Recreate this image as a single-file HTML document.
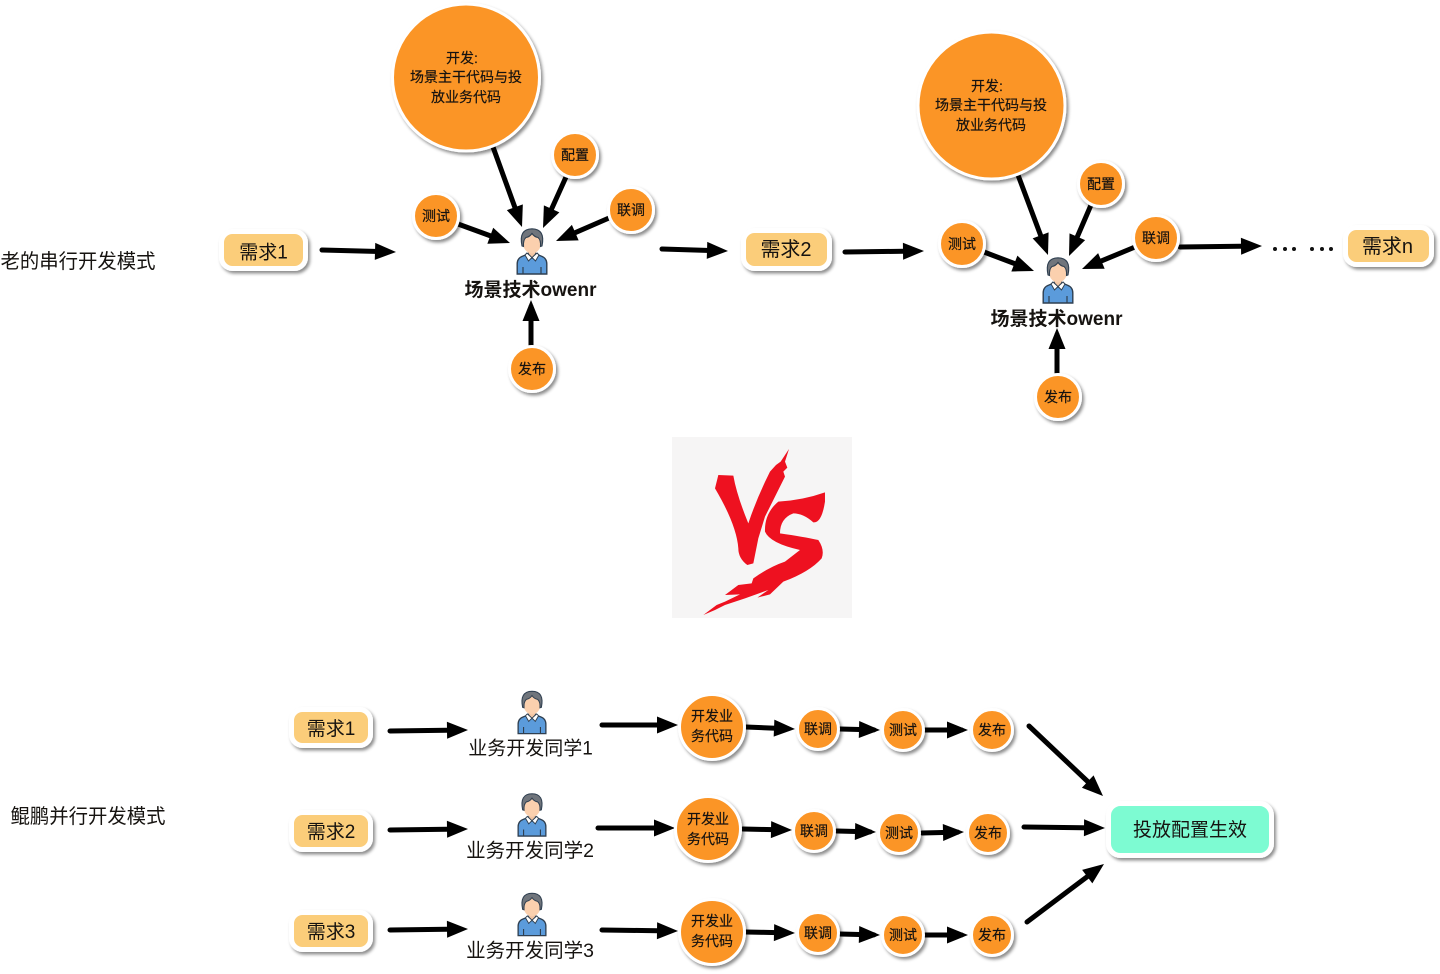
<!DOCTYPE html>
<html><head><meta charset="utf-8"><style>
html,body{margin:0;padding:0;background:#fff;width:1440px;height:974px;overflow:hidden}
svg{display:block;filter:blur(.35px)}
text{font-family:"Liberation Sans","Noto Sans CJK SC",sans-serif;fill:#161310;text-anchor:middle}
.l{stroke:#000;stroke-width:5;stroke-linecap:round;fill:none;marker-end:url(#a);stroke-dasharray:85 1000}
.c{fill:#fb9526;stroke:#fff;stroke-width:3;filter:url(#s)}
.p{fill:#fbcd7a;stroke:#fff;stroke-width:5;filter:url(#s)}
.t14{font-size:14px;stroke:#161310;stroke-width:.2}
.t20{font-size:20px}.t19{font-size:19px}
</style></head><body>
<svg width="1440" height="974" viewBox="0 0 1440 974" xmlns="http://www.w3.org/2000/svg">
<defs>
<filter id="s" x="-30%" y="-30%" width="170%" height="170%"><feDropShadow dx="2" dy="2.5" stdDeviation="1.6" flood-color="#000" flood-opacity=".45"/></filter>
<marker id="a" markerUnits="userSpaceOnUse" markerWidth="26" markerHeight="22" refX="23" refY="10" orient="auto"><path d="M2 1.5L23 10L2 18.5Z" fill="#000"/></marker>
<symbol id="u" viewBox="0 0 32 47" overflow="visible">
<path d="M1.2 46V36Q1.2 30 7 28L11 26.5L16 30L21 26.5L25 28Q30.8 30 30.8 36V46Z" fill="#5b9bdb" stroke="#2f3f50" stroke-width="1.4"/>
<path d="M7 46V39M25 46V39" stroke="#2f3f50" stroke-width="1.2"/>
<path d="M11 25L16 29.5L12.5 33L9 27ZM21 25L16 29.5L19.5 33L23 27Z" fill="#fff" stroke="#2f3f50" stroke-width="1"/>
<path d="M12.5 20H19.5V26L16 29.5L12.5 26Z" fill="#f2c5a3" stroke="#2f3f50" stroke-width=".8"/>
<ellipse cx="16" cy="15" rx="9" ry="10.5" fill="#fbd0ae"/>
<path d="M6 18Q2.5 1 16 .8Q29.5 1 26 18L24.5 18.5Q25 12 22 9.5Q18.5 9 16 5.5Q13.5 9 10 9.5Q7 12 7.5 18.5Z" fill="#70757c" stroke="#2f3f50" stroke-width="1.1"/>
</symbol>
</defs>

<text x="78" y="268" class="t20" textLength="155" lengthAdjust="spacingAndGlyphs">老的串行开发模式</text>
<text x="88" y="823" class="t20" textLength="155" lengthAdjust="spacingAndGlyphs">鲲鹏并行开发模式</text>

<rect x="221.500" y="231.500" width="84" height="37" rx="11" class="p"/><text x="263.500" y="258.500" class="t19">需求1</text>
<rect x="743.500" y="230.500" width="86" height="38" rx="11" class="p"/><text x="786" y="256" class="t20">需求2</text>
<rect x="1345.500" y="227.500" width="86" height="37" rx="11" class="p"/><text x="1387.500" y="253" class="t20">需求n</text>

<path pathLength="100" class="l" d="M322 250L396 252"/>
<path pathLength="100" class="l" d="M493 147L522 227"/>
<path pathLength="100" class="l" d="M566 177L543 228"/>
<path pathLength="100" class="l" d="M609 218L556 241"/>
<path pathLength="100" class="l" d="M458 224L510 243"/>
<path pathLength="100" class="l" d="M531 346L531 300"/>
<path pathLength="100" class="l" d="M662 249L728 251"/>
<path pathLength="100" class="l" d="M845 252L924 251"/>
<path pathLength="100" class="l" d="M1018 175L1048 255"/>
<path pathLength="100" class="l" d="M1091 205L1069 256"/>
<path pathLength="100" class="l" d="M1135 247L1082 269"/>
<path pathLength="100" class="l" d="M984 252L1034 271"/>
<path pathLength="100" class="l" d="M1057 374L1057 328"/>
<path pathLength="100" class="l" d="M1180 247L1262 246"/>
<g fill="#111"><circle cx="1275" cy="249" r="2"/><circle cx="1285" cy="249" r="2"/><circle cx="1294" cy="249" r="2"/><circle cx="1312" cy="249" r="2"/><circle cx="1322" cy="249" r="2"/><circle cx="1331" cy="249" r="2"/></g>

<circle cx="466" cy="77.500" r="73.500" class="c"/>
<text x="462" y="63" class="t14">开发:</text>
<text x="466" y="82" class="t14">场景主干代码与投</text>
<text x="466" y="102" class="t14">放业务代码</text>
<circle cx="575" cy="155" r="22.500" class="c"/><text x="575" y="160" class="t14">配置</text>
<circle cx="631" cy="210" r="22.500" class="c"/><text x="631" y="215" class="t14">联调</text>
<circle cx="436" cy="216" r="22.500" class="c"/><text x="436" y="221" class="t14">测试</text>
<circle cx="532" cy="369" r="22.500" class="c"/><text x="532" y="374" class="t14">发布</text>
<use href="#u" x="516" y="228" width="32" height="47"/>
<text x="530.500" y="296" font-size="19" font-weight="700">场景技术owenr</text>

<circle cx="991.500" cy="105.500" r="73.500" class="c"/>
<text x="987" y="91" class="t14">开发:</text>
<text x="991" y="110" class="t14">场景主干代码与投</text>
<text x="991" y="130" class="t14">放业务代码</text>
<circle cx="1101" cy="184" r="22.500" class="c"/><text x="1101" y="189" class="t14">配置</text>
<circle cx="1156" cy="238" r="22.500" class="c"/><text x="1156" y="243" class="t14">联调</text>
<circle cx="962" cy="244" r="22.500" class="c"/><text x="962" y="249" class="t14">测试</text>
<circle cx="1058" cy="397" r="22.500" class="c"/><text x="1058" y="402" class="t14">发布</text>
<use href="#u" x="1042" y="257" width="32" height="47"/>
<text x="1056.500" y="325" font-size="19" font-weight="700">场景技术owenr</text>

<rect x="672" y="437" width="180" height="181" fill="#f6f5f5"/>
<g transform="translate(670 435) scale(.3333)" fill="#ee1120">
<path d="M145 120L190 122Q200 180 235 265Q260 190 300 110L318 90L332 80L357 42L345 80L352 98L340 110L345 125L310 195L285 245L265 310L250 385L232 390Q205 370 205 340Q200 270 135 160Z"/>
<path d="M465 172L465 200Q455 265 430 262Q400 235 370 235Q330 250 330 295Q400 305 445 315Q465 345 455 370Q420 410 340 440L300 478L262 488L295 465L225 490L165 510L135 525L100 540L140 510L165 500L210 478L165 480L205 450L245 445L250 430Q300 395 345 380L390 345Q300 325 285 290Q283 235 325 200Q400 195 465 172Z"/>
</g>

<rect x="291.500" y="709.500" width="79" height="36" rx="11" class="p"/><text x="331" y="735" class="t19">需求1</text>
<rect x="291.500" y="812.500" width="79" height="37" rx="11" class="p"/><text x="331" y="838" class="t19">需求2</text>
<rect x="291.500" y="912.500" width="79" height="37" rx="11" class="p"/><text x="331" y="938" class="t19">需求3</text>

<path pathLength="100" class="l" d="M390 731L468 730"/>
<path pathLength="100" class="l" d="M390 830L468 829"/>
<path pathLength="100" class="l" d="M390 930L468 929"/>
<use href="#u" x="517" y="690" width="30" height="45"/>
<use href="#u" x="517" y="793" width="30" height="44"/>
<use href="#u" x="517" y="892" width="30" height="45"/>
<text x="530.500" y="754.500" font-size="19">业务开发同学1</text>
<text x="530" y="857" font-size="19.500">业务开发同学2</text>
<text x="530" y="957" font-size="19.500">业务开发同学3</text>

<path pathLength="100" class="l" d="M602 725L678 725"/>
<path pathLength="100" class="l" d="M598 828L675 828"/>
<path pathLength="100" class="l" d="M602 930L678 931"/>

<path pathLength="100" class="l" d="M746 727L795 729"/><path pathLength="100" class="l" d="M840 729L880 730"/><path pathLength="100" class="l" d="M925 730L968 730"/>
<path pathLength="100" class="l" d="M743 829L792 830"/><path pathLength="100" class="l" d="M837 831L876 832"/><path pathLength="100" class="l" d="M922 833L964 832"/>
<path pathLength="100" class="l" d="M746 932L795 933"/><path pathLength="100" class="l" d="M840 934L880 935"/><path pathLength="100" class="l" d="M925 935L968 935"/>

<circle cx="712" cy="727" r="32.500" class="c"/><text x="712" y="721" class="t14">开发业</text><text x="712" y="741" class="t14">务代码</text>
<circle cx="818" cy="729" r="20.500" class="c"/><text x="818" y="734" class="t14">联调</text>
<circle cx="903" cy="730" r="20.500" class="c"/><text x="903" y="735" class="t14">测试</text>
<circle cx="992" cy="730" r="20.500" class="c"/><text x="992" y="735" class="t14">发布</text>

<circle cx="708" cy="829" r="32.500" class="c"/><text x="708" y="824" class="t14">开发业</text><text x="708" y="844" class="t14">务代码</text>
<circle cx="814" cy="831" r="20.500" class="c"/><text x="814" y="836" class="t14">联调</text>
<circle cx="899" cy="833" r="20.500" class="c"/><text x="899" y="838" class="t14">测试</text>
<circle cx="988" cy="833" r="20.500" class="c"/><text x="988" y="838" class="t14">发布</text>

<circle cx="712" cy="932" r="32.500" class="c"/><text x="712" y="926" class="t14">开发业</text><text x="712" y="946" class="t14">务代码</text>
<circle cx="818" cy="933" r="20.500" class="c"/><text x="818" y="938" class="t14">联调</text>
<circle cx="903" cy="935" r="20.500" class="c"/><text x="903" y="940" class="t14">测试</text>
<circle cx="992" cy="935" r="20.500" class="c"/><text x="992" y="940" class="t14">发布</text>

<path pathLength="100" class="l" d="M1029 726L1103 796"/>
<path pathLength="100" class="l" d="M1024 827L1105 828"/>
<path pathLength="100" class="l" d="M1027 922L1104 864"/>
<rect x="1108.500" y="803.500" width="163" height="52" rx="12" fill="#7dfbd2" stroke="#fff" stroke-width="5" filter="url(#s)"/>
<text x="1190" y="836" class="t19" font-size="19">投放配置生效</text>
</svg>
</body></html>
